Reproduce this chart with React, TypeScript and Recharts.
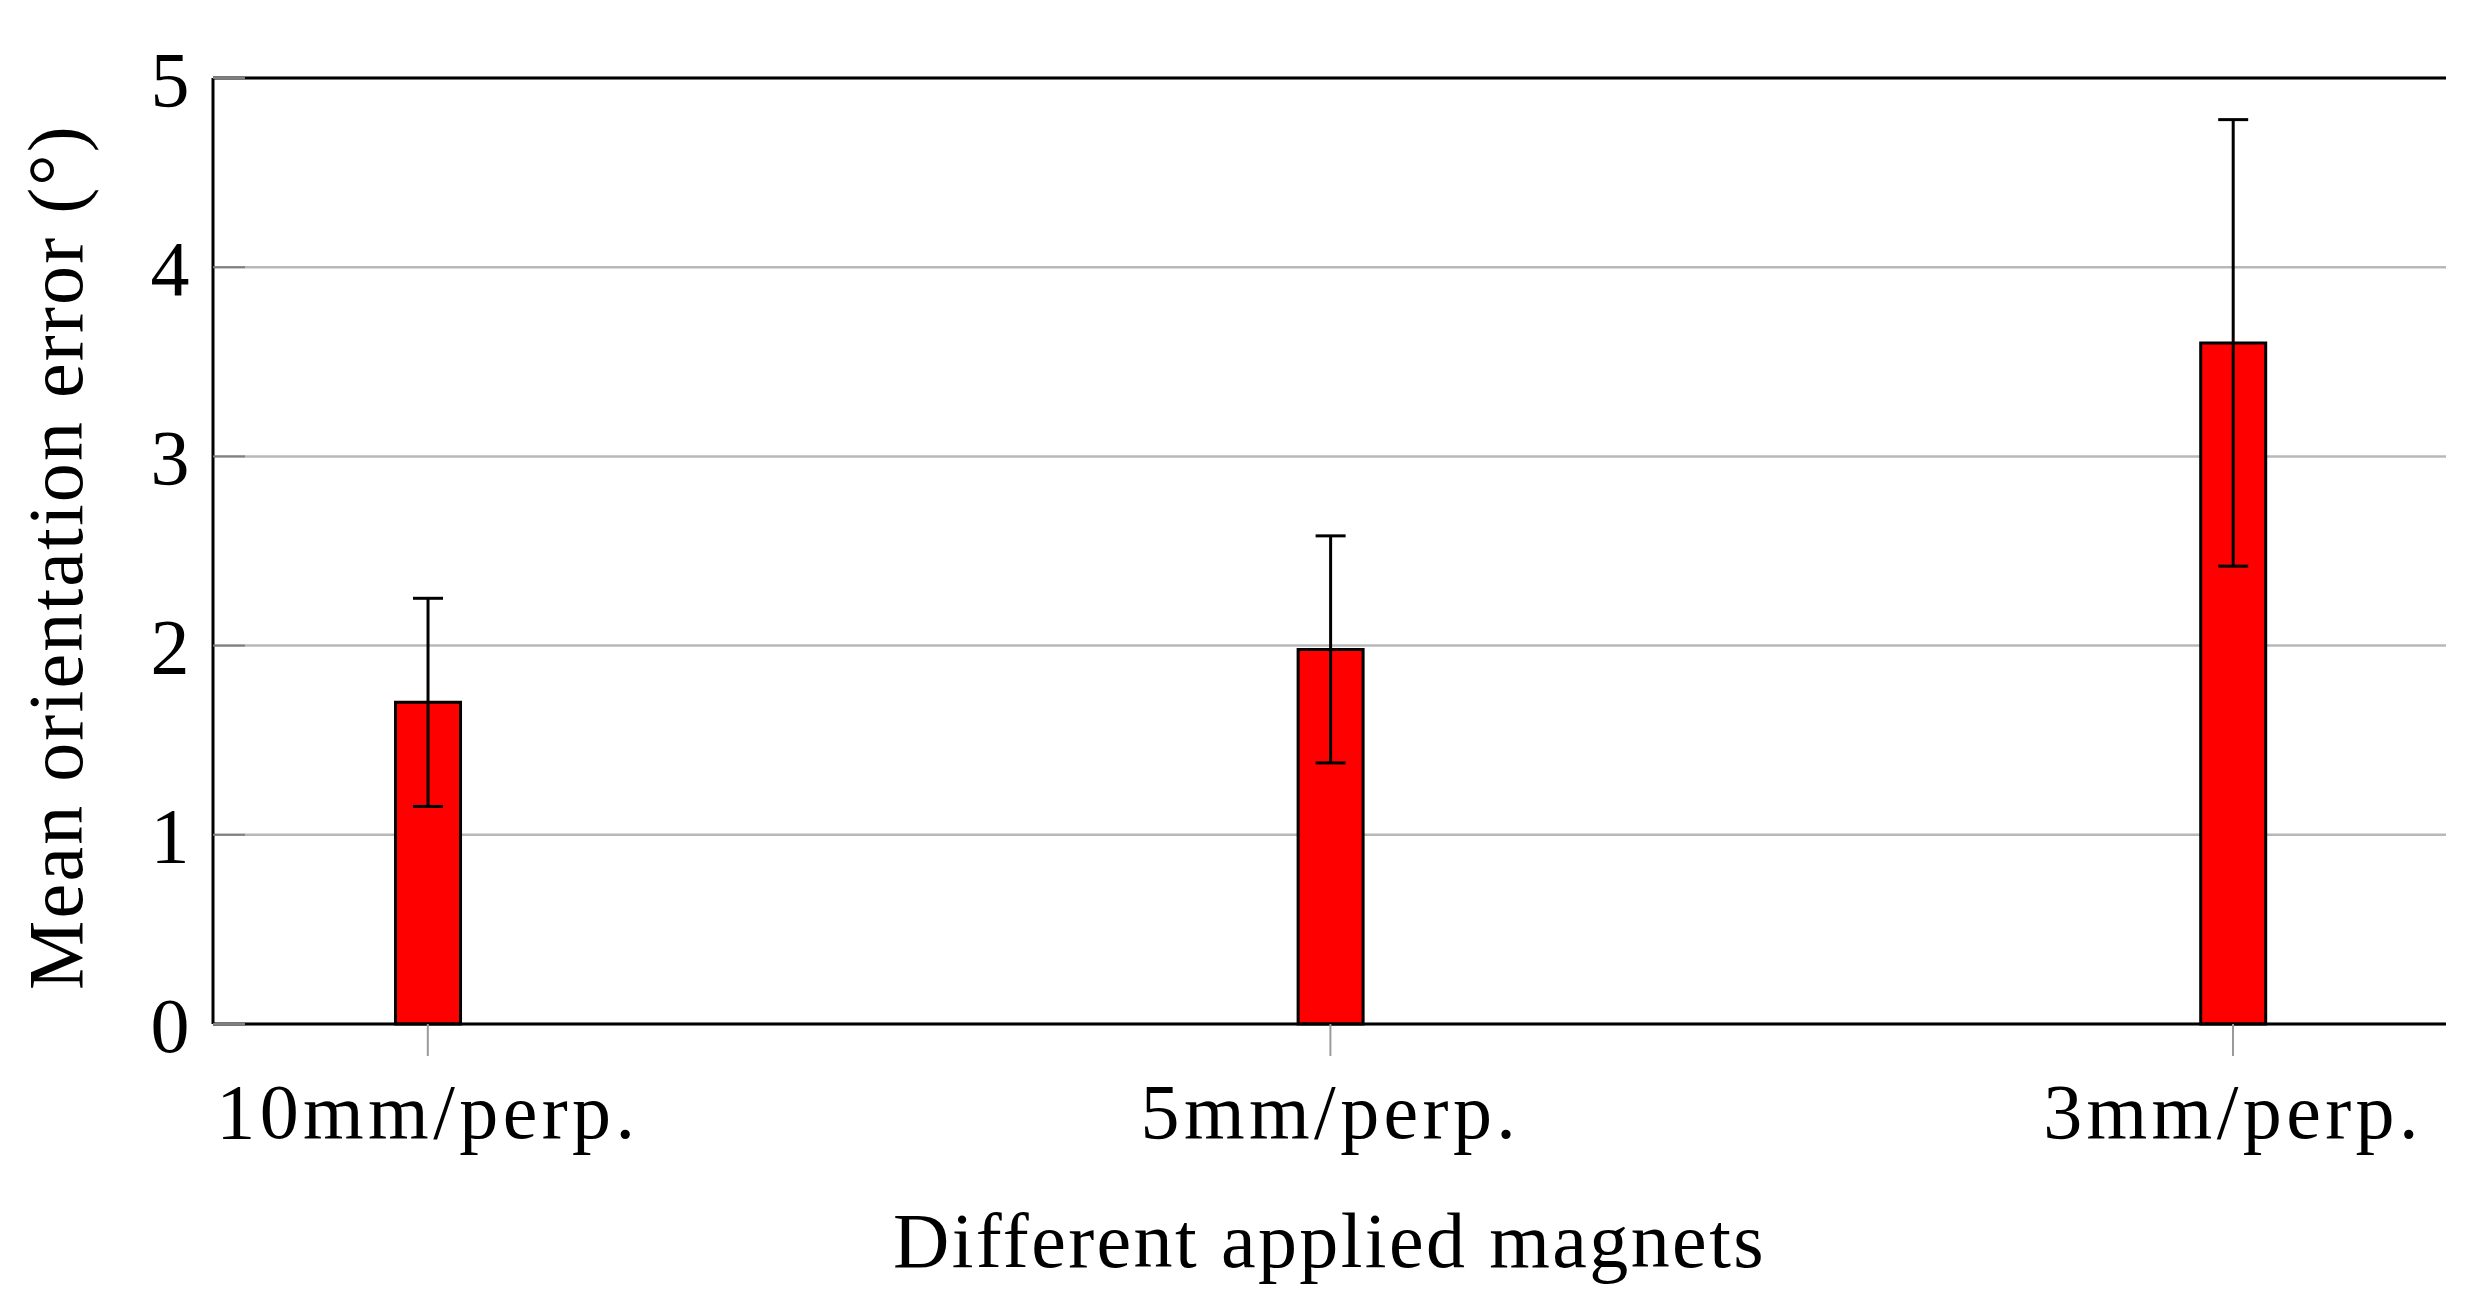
import React from 'react';
import {
  BarChart, Bar, XAxis, YAxis, CartesianGrid, ErrorBar, Label
} from 'recharts';

const categories = ['10mm/perp.', '5mm/perp.', '3mm/perp.'];
const meanError = [1.70, 1.98, 3.60];
const errorDown = [0.55, 0.60, 1.18];
const errorUp = [0.55, 0.60, 1.18];
const yTicks = [0, 1, 2, 3, 4, 5];

const chartData = categories.map((name, i) => ({
  pos: i,
  name,
  mean: meanError[i],
  err: [errorDown[i], errorUp[i]],
}));

const catTicks = categories.map((_, i) => i);
const xDomain = [-0.238, 2.236];
const FONT = 78;

const XTitle = (props: any) => {
  const { viewBox } = props;
  return (
    <text
      x={viewBox.x + viewBox.width / 2}
      y={viewBox.y + 243}
      textAnchor="middle"
      fontSize={FONT}
      fill="#000"
      style={{ letterSpacing: '2.4px' }}
    >
      Different applied magnets
    </text>
  );
};

const YTitle = (props: any) => {
  const { viewBox } = props;
  const cx = 82;
  const cy = viewBox.y + viewBox.height / 2 + 6;
  return (
    <text
      x={cx}
      y={cy}
      transform={`rotate(-90 ${cx} ${cy})`}
      textAnchor="middle"
      fontSize={FONT}
      fill="#000"
      style={{ letterSpacing: '2.2px' }}
    >
      Mean orientation error (°)
    </text>
  );
};

const App: React.FC = () => {
  return (
    <div style={{ position: 'absolute', left: 0, top: 0, background: '#fff', fontFamily: '"Liberation Serif", serif', letterSpacing: '4.4px' }}>
      <BarChart
        width={2492}
        height={1316}
        data={chartData}
        margin={{ top: 46, right: 46, left: 0, bottom: 192 }}
      >
        <CartesianGrid vertical={false} stroke="#b8b8b8" strokeWidth={2.5} />
        <XAxis
          xAxisId="top"
          orientation="top"
          type="number"
          dataKey="pos"
          domain={xDomain}
          ticks={catTicks}
          tick={false}
          tickSize={32}
          height={32}
          tickLine={{ stroke: '#9a9a9a', strokeWidth: 2 }}
          axisLine={{ stroke: '#000', strokeWidth: 3 }}
        />
        <XAxis
          type="number"
          dataKey="pos"
          domain={xDomain}
          ticks={catTicks}
          tickFormatter={(v: number) => categories[v]}
          tickSize={32}
          tickMargin={27}
          height={100}
          tick={{ fill: '#000', fontSize: FONT }}
          tickLine={{ stroke: '#9a9a9a', strokeWidth: 2 }}
          axisLine={{ stroke: '#000', strokeWidth: 3 }}
        >
          <Label content={XTitle} />
        </XAxis>
        <YAxis
          domain={[0, 5]}
          ticks={yTicks}
          width={213}
          tickSize={-32}
          tickMargin={51}
          tick={{ fill: '#000', fontSize: FONT }}
          tickLine={{ stroke: '#808080', strokeWidth: 2 }}
          axisLine={{ stroke: '#000', strokeWidth: 3 }}
        >
          <Label content={YTitle} />
        </YAxis>
        <Bar dataKey="mean" barSize={65} fill="#ff0000" stroke="#000" strokeWidth={3} isAnimationActive={false}>
          <ErrorBar dataKey="err" width={15} stroke="#000" strokeWidth={3} />
        </Bar>
      </BarChart>
    </div>
  );
};

export default App;
